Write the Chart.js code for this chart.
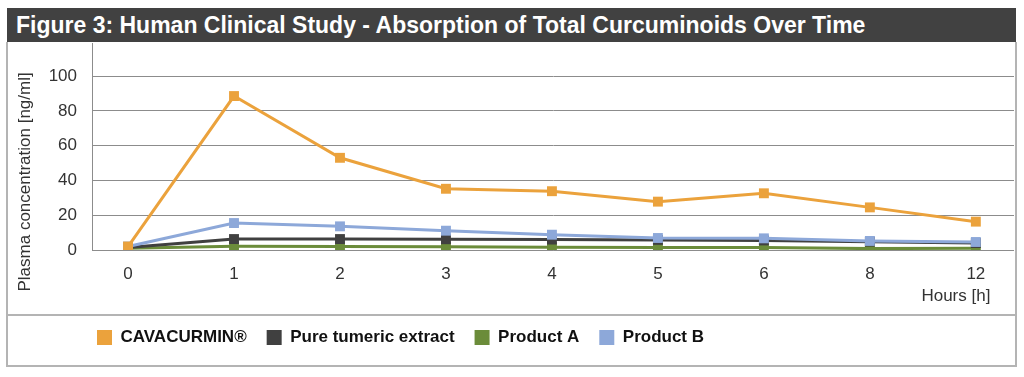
<!DOCTYPE html>
<html>
<head>
<meta charset="utf-8">
<script src="https://cdn.jsdelivr.net/npm/chart.js@4.4.1/dist/chart.umd.min.js"></script>
<style>
    body { margin: 0; background: #fff; font-family: 'Liberation Sans', Arial, sans-serif; }
    #titlebar {
        position: absolute; left: 7px; top: 8px; width: 1009px; height: 34px;
        background: #414141; color: #fff; font-weight: bold; font-size: 23px;
        line-height: 34px; padding-left: 9px; box-sizing: border-box; white-space: nowrap;
    }
    #box {
        position: absolute; left: 6px; top: 42px; width: 1011px; height: 325px;
        border: 2px solid #b4b4b4; border-top: none; box-sizing: border-box;
    }
    #sep { position: absolute; left: 6px; top: 314px; width: 1011px; height: 2px; background: #b4b4b4; }
    #wrap { position: absolute; left: 8px; top: 43px; width: 1006px; height: 313px; }
</style>
</head>
<body>
<div id="titlebar">Figure 3: Human Clinical Study - Absorption of Total Curcuminoids Over Time</div>
<div id="box"></div>
<div id="sep"></div>
<div id="wrap"><canvas id="chart"></canvas></div>
<script>
// hours after intake (x categories)
const hours = ['0', '1', '2', '3', '4', '5', '6', '8', '12'];

// plasma concentration, ng/ml
const cavacurmin = [2, 88.5, 53, 35.2, 33.8, 27.8, 32.6, 24.5, 16.3];
const pureExtract = [1.5, 6.3, 6.3, 6.2, 6.0, 5.8, 5.5, 4.8, 4.0];
const productA = [1.0, 2.1, 2.0, 1.8, 1.6, 1.5, 1.4, 0.8, 1.0];
const productB = [2.0, 15.5, 13.6, 11.1, 8.8, 6.9, 6.7, 5.2, 4.6];

const seriesNames = ['CAVACURMIN®', 'Pure tumeric extract', 'Product A', 'Product B'];
const seriesColors = ['#eba23c', '#404040', '#6b8c3a', '#8da8d9'];

Chart.defaults.font.family = "'Liberation Sans', Arial, sans-serif";
Chart.defaults.color = '#333';

function toPoints(values) {
    return values.map((v, i) => ({ x: i, y: v }));
}

function makeDataset(idx, values, order) {
    return {
        label: seriesNames[idx],
        data: toPoints(values),
        borderColor: seriesColors[idx],
        backgroundColor: seriesColors[idx],
        borderWidth: 3,
        pointStyle: 'rect',
        pointRadius: 7,
        pointBorderWidth: 0,
        pointHoverRadius: 7,
        tension: 0,
        order: order
    };
}

// move the legend row to the right, like the original
const legendShift = {
    id: 'legendShift',
    afterLayout(chart) {
        chart.legend.left += 69;
    }
};

const GRID = '#8c8c8c';

new Chart(document.getElementById('chart'), {
    type: 'line',
    data: {
        datasets: [
            makeDataset(0, cavacurmin, 0),
            makeDataset(1, pureExtract, 2),
            makeDataset(2, productA, 3),
            makeDataset(3, productB, 1)
        ]
    },
    options: {
        responsive: true,
        maintainAspectRatio: false,
        animation: false,
        layout: { padding: 0, autoPadding: false },
        scales: {
            x: {
                type: 'linear',
                min: -0.34,
                max: 8.36,
                afterBuildTicks: s => { s.ticks = hours.map((h, i) => ({ value: i })); },
                afterFit: s => { s.height = 59; s.paddingLeft = 0; s.paddingRight = 0; },
                ticks: {
                    callback: v => hours[v],
                    padding: 14,
                    font: { size: 17 },
                    color: '#333',
                    maxRotation: 0
                },
                grid: { display: false, drawTicks: false },
                border: { display: true, color: GRID, width: 1 },
                title: {
                    display: true,
                    text: 'Hours [h]' + '\u00a0'.repeat(5),
                    align: 'end',
                    font: { size: 17 },
                    color: '#333',
                    padding: { top: 0, bottom: 2 }
                }
            },
            y: {
                min: 0,
                max: 119,
                afterBuildTicks: s => { s.ticks = s.ticks.filter(t => t.value <= 100); },
                afterFit: s => { s.width = 84; s.paddingTop = 0; s.paddingBottom = 0; },
                ticks: {
                    stepSize: 20,
                    padding: 15,
                    font: { size: 17 },
                    color: '#333'
                },
                grid: { color: GRID, lineWidth: 1, drawTicks: false },
                border: { display: true, color: GRID, width: 1 },
                title: {
                    display: true,
                    text: 'Plasma concentration [ng/ml]' + '\u00a0'.repeat(15),
                    font: { size: 17 },
                    color: '#333',
                    padding: { top: 7, bottom: 0 }
                }
            }
        },
        plugins: {
            legend: {
                position: 'bottom',
                align: 'start',
                labels: {
                    boxWidth: 15,
                    boxHeight: 15,
                    padding: 20,
                    color: '#111',
                    font: { size: 17, weight: 'bold' },
                    sort: (a, b) => a.datasetIndex - b.datasetIndex,
                    generateLabels: c => Chart.defaults.plugins.legend.labels.generateLabels(c)
                        .map(item => ({ ...item, lineWidth: 0 }))
                }
            },
            tooltip: { enabled: false }
        }
    },
    plugins: [legendShift]
});
</script>
</body>
</html>
